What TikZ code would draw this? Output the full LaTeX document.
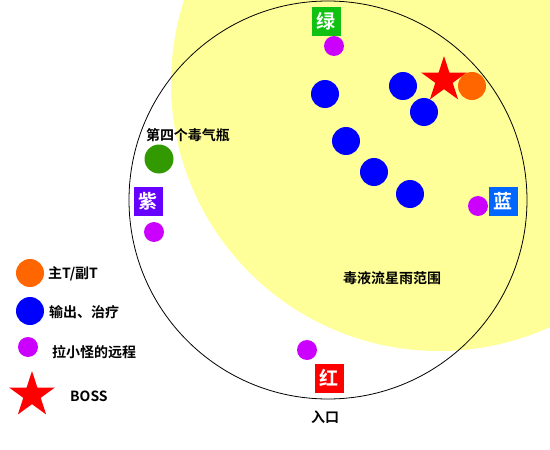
\documentclass[tikz,border=0pt]{standalone}
\usepackage{fontspec}
\usepackage{xcolor}
\usepackage{tikz}
\usetikzlibrary{shapes.geometric}
\newfontfamily\cjk{Noto Sans CJK SC}[BoldFont={Noto Sans CJK SC Bold}]
\definecolor{poison}{HTML}{FFFF99}
\definecolor{tank}{HTML}{FF6600}
\definecolor{dps}{HTML}{0000FF}
\definecolor{ranged}{HTML}{CC00FF}
\definecolor{bottle}{HTML}{339900}
\definecolor{greenflag}{HTML}{11C111}
\definecolor{purpleflag}{HTML}{6600FF}
\definecolor{blueflag}{HTML}{0066FF}

\begin{document}
\begin{tikzpicture}[x=1pt,y=-1pt,
    dot/.style={shape=circle, inner sep=0pt, minimum size=28pt, fill=#1},
    small/.style={shape=circle, inner sep=0pt, minimum size=20pt, fill=ranged},
    boss/.style={shape=star, star points=5, star point ratio=2.618, inner sep=0pt, minimum size=48pt, fill=red},
    flag/.style={fill=#1, text=white, minimum size=29pt, inner sep=0pt, font=\cjk\bfseries\fontsize{19pt}{21pt}\selectfont},
    txt/.style={inner sep=0pt, font=\cjk\bfseries\fontsize{14pt}{16pt}\selectfont}]
    \clip (0,0) rectangle (550,450);
    \useasboundingbox (0,0) rectangle (550,450);

    % range of the poison rain and the room
    \fill[poison] (439,83) circle (268pt);
    \draw[line width=0.8pt] (328,200) circle (199pt);

    % raid
    \node[small] (r1) at (334,46) {};
    \node[small] (r2) at (154,232) {};
    \node[small] (r3) at (478,206) {};
    \node[small] (r4) at (307,350) {};
    \node[dot=dps] (d1) at (325,94) {};
    \node[dot=dps] (d2) at (403,86) {};
    \node[dot=dps] (d3) at (424,112) {};
    \node[dot=dps] (d4) at (346,141) {};
    \node[dot=dps] (d5) at (374,172) {};
    \node[dot=dps] (d6) at (410,194) {};
    \node[boss] (boss) at (444,80) {};
    \node[dot=tank] (tank) at (472,86) {};
    \node[dot=bottle, minimum size=29pt] (bottle) at (159,159) {};

    % markers
    \node[flag=greenflag] (green) at (326,21) {绿};
    \node[flag=purpleflag] (purple) at (148,201) {紫};
    \node[flag=blueflag] (blue) at (503,201) {蓝};
    \node[flag=red] (redflag) at (329,378) {红};

    \node[txt] (bottletxt) at (188,135) {第四个毒气瓶};
    \node[txt] (rain) at (392,278) {毒液流星雨范围};
    \node[txt] (entry) at (325,417) {入口};

    % legend
    \node[dot=tank] (ltank) at (30,273) {};
    \node[dot=dps] (ldps) at (30,311) {};
    \node[small] (lranged) at (28,347) {};
    \node[boss] (lboss) at (32,395) {};
    \node[txt, anchor=west] at (48,274) {主T/副T};
    \node[txt, anchor=west] at (49,312) {输出、治疗};
    \node[txt, anchor=west] at (52,352) {拉小怪的远程};
    \node[txt, anchor=west] at (70,396) {BOSS};
\end{tikzpicture}
\end{document}
